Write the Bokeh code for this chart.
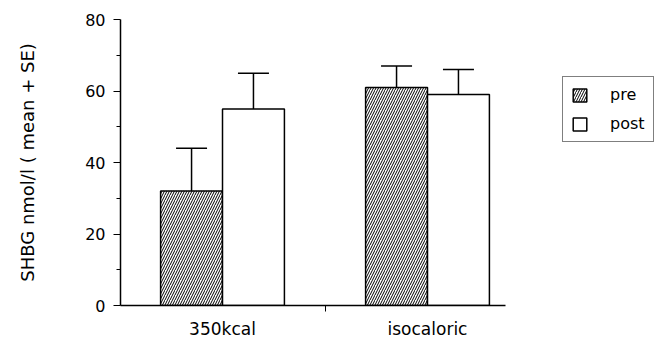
from bokeh.plotting import figure
from bokeh.models import (ColumnDataSource, Range1d, FixedTicker, Whisker, TeeHead,
                          Legend, LegendItem)
from bokeh.embed import file_html
from bokeh.resources import INLINE

# ---- data ----
groups = ["350kcal", "isocaloric"]
pre_mean = [32, 61]
pre_se = [12, 6]
post_mean = [55, 59]
post_se = [10, 7]
y_ticks = [0, 20, 40, 60, 80]
y_minor = [10, 30, 50, 70]
series_labels = ["pre", "post"]

FONT = "DejaVu Sans"
bar_w = 0.302
xs = list(range(len(groups)))
x_start, x_axis_end, x_frame_end = -0.4976, 1.380, 2.1122

src_pre = ColumnDataSource(dict(
    x=[i - bar_w / 2 for i in xs], top=pre_mean,
    upper=[m + s for m, s in zip(pre_mean, pre_se)]))
src_post = ColumnDataSource(dict(
    x=[i + bar_w / 2 for i in xs], top=post_mean,
    upper=[m + s for m, s in zip(post_mean, post_se)]))

p = figure(width=655, height=341, output_backend="svg", toolbar_location=None,
           x_range=Range1d(x_start, x_frame_end), y_range=Range1d(0, 80),
           min_border_left=120, min_border_right=0, min_border_top=19,
           min_border_bottom=36)
p.outline_line_color = None
p.xgrid.visible = False
p.ygrid.visible = False
p.background_fill_color = "white"
p.border_fill_color = "white"

# error bars
for src in (src_pre, src_post):
    w = Whisker(source=src, base="x", upper="upper", lower="top",
                upper_head=TeeHead(size=31, line_width=1.5, line_color="black"),
                lower_head=None, line_width=1.5, line_color="black")
    p.add_layout(w)

r_pre = p.vbar(x="x", top="top", bottom=0, width=bar_w, source=src_pre,
               fill_color="white", line_color="black", line_width=1.5,
               hatch_pattern="right_diagonal_line", hatch_scale=5,
               hatch_color="black", hatch_weight=1)
r_post = p.vbar(x="x", top="top", bottom=0, width=bar_w, source=src_post,
                fill_color="white", line_color="black", line_width=1.5)

# x axis
xa = p.xaxis[0]
xa.bounds = (x_start, x_axis_end)
xa.ticker = FixedTicker(ticks=xs, minor_ticks=[0.5])
xa.major_label_overrides = {i: g for i, g in zip(xs, groups)}
xa.major_tick_out = 0
xa.major_tick_in = 0
xa.minor_tick_out = 6
xa.minor_tick_in = 0
xa.major_label_standoff = 7
xa.major_label_text_font = FONT
xa.major_label_text_font_size = "17px"
xa.major_label_text_color = "black"
xa.axis_line_width = 1.5
xa.axis_line_color = "black"

# y axis
ya = p.yaxis[0]
ya.ticker = FixedTicker(ticks=y_ticks, minor_ticks=y_minor)
ya.major_tick_out = 7
ya.major_tick_in = 0
ya.minor_tick_out = 4
ya.minor_tick_in = 0
ya.major_label_standoff = 8
ya.major_label_text_font = FONT
ya.major_label_text_font_size = "16px"
ya.major_label_text_color = "black"
ya.axis_line_width = 1.5
ya.axis_line_color = "black"
ya.axis_label = "SHBG nmol/l ( mean + SE)"
ya.axis_label_text_font = FONT
ya.axis_label_text_font_size = "18px"
ya.axis_label_text_font_style = "normal"
ya.axis_label_text_color = "black"
ya.axis_label_standoff = 44

legend = Legend(items=[LegendItem(label=series_labels[0], renderers=[r_pre]),
                       LegendItem(label=series_labels[1], renderers=[r_post])],
                location=(442, 163), padding=8, spacing=10,
                glyph_width=17, glyph_height=16, label_height=16,
                label_standoff=22, label_text_font=FONT,
                label_text_font_size="16px", label_text_color="black",
                border_line_color="black", border_line_width=1.5,
                background_fill_color="white", background_fill_alpha=1,
                margin=0)
p.add_layout(legend)

open("out.html", "w").write(file_html(p, INLINE))
